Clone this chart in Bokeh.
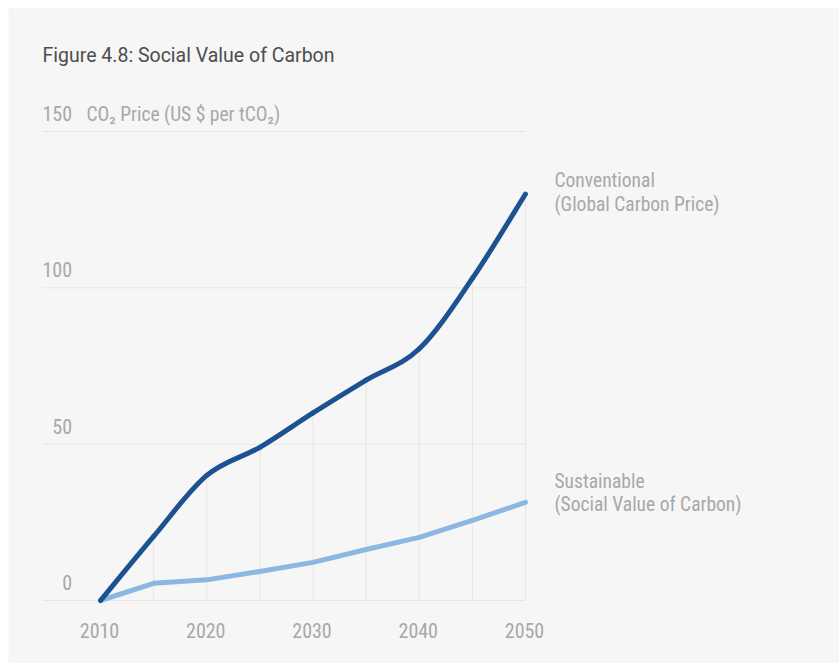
from bokeh.plotting import figure
from bokeh.models import Range1d, Label, ColumnDataSource
from bokeh.core.properties import value
from bokeh.embed import file_html
from bokeh.resources import INLINE

# ---- data ----
years = [2010, 2015, 2020, 2025, 2030, 2035, 2040, 2045, 2050]
conventional = [0, 20.5, 40, 49, 60, 70.5, 80.5, 103, 130]
sustainable = [0, 5.5, 6.6, 9.3, 12.2, 16.3, 20.2, 25.6, 31.4]
y_ticks = [0, 50, 100, 150]
x_ticks = [2010, 2020, 2030, 2040, 2050]

title_text = "Figure 4.8: Social Value of Carbon"
unit_text = "CO\u2082 Price (US $ per tCO\u2082)"

# ---- layout (picture pixels) ----
W, H = 839, 663
MARGIN = 8
X0_PX, PX_PER_YEAR = 100.0, 425.0 / 40.0     # x of 2010
Y0_PX, PX_PER_UNIT = 600.0, 469.0 / 150.0    # y of value 0
TXT_SHIFT = 7                                # svg baseline correction (px)


def px2x(px):
    return years[0] + (px - X0_PX) / PX_PER_YEAR


def py2y(py):
    return (Y0_PX - py) / PX_PER_UNIT


FONT = "Roboto Condensed, Roboto"
GRAY = "#a8a8a8"
GRID = "#e6e6e6"
BG = "#f6f6f6"
DARK = "#1c5291"
LIGHT = "#8bb7e2"

p = figure(width=W, height=H, output_backend="svg", toolbar_location=None,
           x_axis_type=None, y_axis_type=None,
           x_range=Range1d(px2x(MARGIN), px2x(W)),
           y_range=Range1d(py2y(H), py2y(MARGIN)),
           min_border_left=MARGIN, min_border_top=MARGIN,
           min_border_right=0, min_border_bottom=0,
           outline_line_color=None,
           background_fill_color=BG, border_fill_color="white")
p.grid.visible = False

# horizontal gridlines
grid_left = px2x(42)
p.segment(x0=[grid_left] * len(y_ticks), y0=y_ticks,
          x1=[years[-1]] * len(y_ticks), y1=y_ticks,
          line_color=GRID, line_width=1)

# vertical drop lines up to the conventional curve
p.segment(x0=years[1:], y0=[0] * (len(years) - 1), x1=years[1:], y1=conventional[1:],
          line_color=GRID, line_width=1)

# sustainable line (straight segments)
p.line(years, sustainable, line_color=LIGHT, line_width=5,
       line_cap="round", line_join="round")

# conventional line (smooth curve through the data points)
n = len(years)
bx0, by0, bx1, by1, c0x, c0y, c1x, c1y = [], [], [], [], [], [], [], []
for i in range(n - 1):
    a = max(i - 1, 0)
    d = min(i + 2, n - 1)
    bx0.append(years[i]); by0.append(conventional[i])
    bx1.append(years[i + 1]); by1.append(conventional[i + 1])
    c0x.append(years[i] + (years[i + 1] - years[a]) / 6.0)
    c0y.append(conventional[i] + (conventional[i + 1] - conventional[a]) / 6.0)
    c1x.append(years[i + 1] - (years[d] - years[i]) / 6.0)
    c1y.append(conventional[i + 1] - (conventional[d] - conventional[i]) / 6.0)
p.bezier(x0=bx0, y0=by0, x1=bx1, y1=by1, cx0=c0x, cy0=c0y, cx1=c1x, cy1=c1y,
         line_color=DARK, line_width=5, line_cap="round")

# y tick labels (above gridlines, right aligned)
ysrc = ColumnDataSource(dict(x=[px2x(71.5)] * len(y_ticks), y=y_ticks,
                             t=[str(v) for v in y_ticks]))
p.text(x="x", y="y", text="t", source=ysrc, text_align="right",
       text_baseline="alphabetic", y_offset=-11 - TXT_SHIFT, text_font=value(FONT),
       text_font_size="20px", text_color=GRAY)

# x tick labels
xsrc = ColumnDataSource(dict(x=x_ticks, y=[0] * len(x_ticks),
                             t=[str(v) for v in x_ticks]))
p.text(x="x", y="y", text="t", source=xsrc, text_align="center",
       text_baseline="alphabetic", y_offset=37 - TXT_SHIFT, x_offset=-1,
       text_font=value(FONT), text_font_size="20px", text_color=GRAY)

# unit label next to the top tick
p.add_layout(Label(x=px2x(86), y=y_ticks[-1], y_offset=10 + TXT_SHIFT, text=unit_text,
                   text_font=FONT, text_font_size="19.5px", text_color=GRAY,
                   text_baseline="alphabetic"))

# title
p.add_layout(Label(x=px2x(42), y=py2y(62 - TXT_SHIFT), text=title_text,
                   text_font="Roboto", text_font_size="19.5px", text_color="#4d4d4d",
                   text_baseline="alphabetic"))

# series annotations
for txt, py in [("Conventional", 187), ("(Global Carbon Price)", 211),
                ("Sustainable", 488), ("(Social Value of Carbon)", 511)]:
    p.add_layout(Label(x=px2x(554), y=py2y(py - TXT_SHIFT), text=txt, text_font=FONT,
                       text_font_size="19.5px", text_color=GRAY,
                       text_baseline="alphabetic"))

open("out.html", "w").write(file_html(p, INLINE))
